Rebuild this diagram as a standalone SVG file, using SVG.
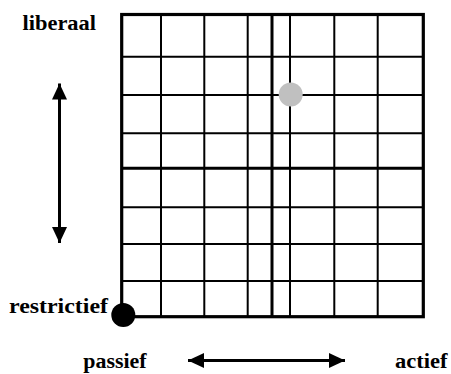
<svg xmlns="http://www.w3.org/2000/svg" width="451" height="374" viewBox="0 0 451 374">
  <style>
    .lbl { font-family: "Liberation Serif", "Times New Roman", serif; font-weight: bold; font-size: 20px; fill: #000; }
    .grid { stroke: #000; stroke-width: 2; fill: none; }
    .thick { stroke: #000; stroke-width: 3; fill: none; }
    .border { stroke: #000; stroke-width: 3.2; fill: none; }
    .arrow { stroke: #000; stroke-width: 3; fill: none; marker-start: url(#head); marker-end: url(#head); }
  </style>
  <defs>
    <marker id="head" markerUnits="userSpaceOnUse" markerWidth="17" markerHeight="16" refX="16" refY="7.5" orient="auto-start-reverse">
      <path d="M0,0 L16,7.5 L0,15 z" fill="#000"/>
    </marker>
  </defs>

  <g id="grid">
    <path class="grid" d="M161,14.5V316.7 M204.3,14.5V316.7 M247.7,14.5V316.7 M290,14.5V316.7 M334.3,14.5V316.7 M377.7,14.5V316.7"/>
    <path class="grid" d="M121.7,56.7H423.3 M121.7,95H423.3 M121.7,133.3H423.3 M121.7,207.3H423.3 M121.7,244H423.3 M121.7,281H423.3"/>
    <path class="thick" d="M272,14.5V316.7 M121.7,168.3H423.3"/>
    <rect class="border" x="121.7" y="14.5" width="301.6" height="302.2"/>
  </g>

  <g id="point-liberaal-actief">
    <circle cx="290.7" cy="94.5" r="12" fill="#c0c0c0"/>
  </g>
  <g id="point-origin">
    <circle cx="123.3" cy="315" r="12" fill="#000"/>
  </g>

  <g id="connectors">
    <line class="arrow" x1="59.5" y1="83.5" x2="59.5" y2="243"/>
    <line class="arrow" x1="188" y1="360.5" x2="345" y2="360.5"/>
  </g>

  <g id="labels">
    <text class="lbl" x="22.5" y="30" textLength="73.5" lengthAdjust="spacingAndGlyphs">liberaal</text>
    <text class="lbl" x="9" y="313.3" textLength="99" lengthAdjust="spacingAndGlyphs">restrictief</text>
    <text class="lbl" x="83.3" y="368.3" textLength="63.3" lengthAdjust="spacingAndGlyphs">passief</text>
    <text class="lbl" x="395" y="368.3" textLength="52.5" lengthAdjust="spacingAndGlyphs">actief</text>
  </g>
</svg>
